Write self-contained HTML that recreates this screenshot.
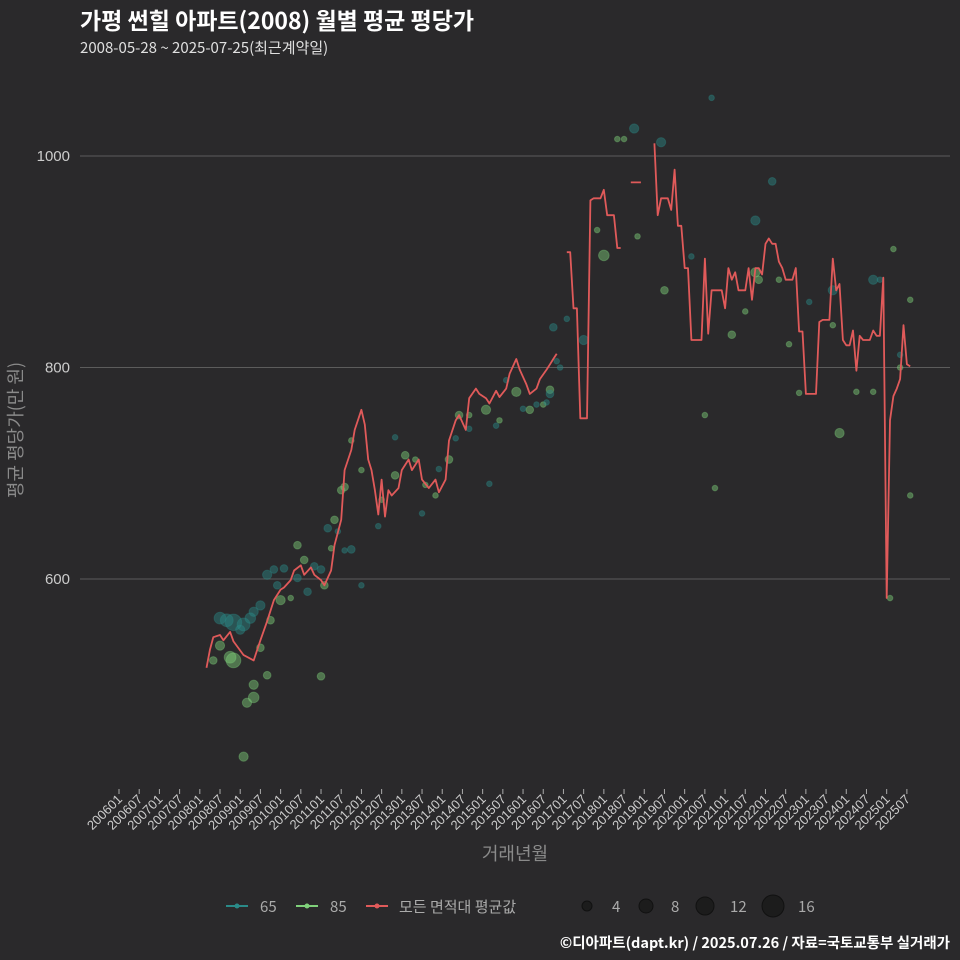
<!DOCTYPE html>
<html><head><meta charset="utf-8"><style>
body{margin:0;background:#2a292b;}
svg{display:block;font-family:"Liberation Sans","Noto Sans CJK KR",sans-serif;}
</style></head><body>
<svg id="chart" width="960" height="960">
<rect width="960" height="960" fill="#2a292b"/>
<text x="80" y="29" fill="#ffffff" font-size="23" font-weight="bold" font-family="'Noto Sans CJK KR',sans-serif">가평 썬힐 아파트(2008) 월별 평균 평당가</text>
<text x="80" y="53" fill="#e0e0e0" font-size="15" font-family="'Noto Sans CJK KR',sans-serif">2008-05-28 ~ 2025-07-25(최근계약일)</text>
<g id="grid"></g><g id="pts"></g><g id="line"></g><g id="axes"></g>
<text transform="translate(22,430) rotate(-90)" text-anchor="middle" fill="#8a8a8a" font-size="18" font-family="'Noto Sans CJK KR',sans-serif">평균 평당가(만 원)</text>
<text x="515" y="860" text-anchor="middle" fill="#8a8a8a" font-size="18" font-family="'Noto Sans CJK KR',sans-serif">거래년월</text>
<g font-size="15" fill="#aaa" font-family="'Noto Sans CJK KR',sans-serif">
 <g><line x1="226" y1="906" x2="248" y2="906" stroke="#2a8a88" stroke-width="2"/><circle cx="237" cy="906" r="2.5" fill="#2a8a88"/><text x="260" y="912">65</text></g>
 <g><line x1="296" y1="906" x2="318" y2="906" stroke="#7fd07a" stroke-width="2"/><circle cx="307" cy="906" r="2.5" fill="#7fd07a"/><text x="330" y="912">85</text></g>
 <g><line x1="366" y1="906" x2="388" y2="906" stroke="#e05a5a" stroke-width="2"/><circle cx="377" cy="906" r="2.5" fill="#e05a5a"/><text x="399" y="912">모든 면적대 평균값</text></g>
 <g fill="#1c1c1c" stroke="#111">
  <circle cx="587" cy="906" r="5"/><circle cx="646" cy="906" r="7"/><circle cx="705" cy="906" r="9"/><circle cx="773" cy="906" r="11"/>
 </g>
 <text x="612" y="912">4</text><text x="671" y="912">8</text><text x="730" y="912">12</text><text x="798" y="912">16</text>
</g>
<text x="950" y="948" text-anchor="end" fill="#ffffff" font-size="14.5" font-weight="bold" font-family="'Noto Sans CJK KR',sans-serif">©디아파트(dapt.kr) / 2025.07.26 / 자료=국토교통부 실거래가</text>
</svg>
<script>
const yTicks=[600,800,1000];
const xTickLabels=[];for(let y=2006;y<=2025;y++){xTickLabels.push(y+'01');xTickLabels.push(y+'07');}
// months since 2006-01; null value breaks the line
const lineMonths=[26,27,28,30,31,33,34,37,40,42,44,46,48,49,51,52,54,55,57,58,60,61,63,64,66,67,69,70,72,73,74,75,76,77,78,79,80,81,83,84,86,87,89,90,92,94,95,97,98,100,101,103,104,106,107,109,110,112,113,115,116,118,119,121,122,124,125,127,128,129,130,131,
133,134,135,136,137,138,139,140,141,142,143,144,145,146,147,148,149,150,152,153,154,155,156,
159,160,161,162,163,164,165,166,167,168,169,170,171,172,173,174,175,176,177,178,179,180,181,182,183,184,185,186,187,188,189,190,191,192,193,194,195,196,197,198,199,200,201,202,203,204,205,206,207,208,209,210,211,212,213,214,215,216,217,218,219,220,221,222,223,224,225,226,227,228,229,230,231,232,233,234,235];
const lineValues=[516,533,545,547,542,550,541,528,523,542,560,580,590,592,599,608,613,604,611,604,599,594,608,632,656,703,722,741,760,746,713,703,684,661,694,659,684,679,686,703,713,703,713,694,686,694,682,694,731,750,755,741,771,780,775,771,766,778,772,780,794,808,798,784,775,780,789,798,803,808,813,null,
909,909,856,856,752,752,752,958,960,960,960,968,944,944,944,913,913,null,975,975,975,975,null,
1012,944,960,960,960,949,987,934,934,894,894,826,826,826,826,903,832,873,873,873,873,856,894,883,890,873,873,873,894,864,894,894,888,917,922,917,917,900,894,883,883,883,894,834,834,775,775,775,775,843,845,845,845,903,873,879,826,821,821,835,797,830,826,826,826,835,830,830,885,582,750,773,780,789,840,803,801];
const p65Months=[30,32,34,37,39,36,40,42,44,46,49,47,53,56,58,60,62,65,67,69,72,77,82,90,95,100,104,110,112,115,120,124,127,128,130,133,129,131,138,153,161,176,189,194,212,224,205,170,226,232];
const p65Values=[563,561,559,557,563,552,569,575,604,609,610,594,601,588,612,609,648,645,627,628,594,650,734,662,704,733,742,690,745,788,761,765,767,775,806,846,838,800,826,1026,1013,1055,939,976,873,883,862,905,883,812];
const p65Counts=[5,6,10,6,4,3,3,3,3,2,2,2,2,2,2,2,2,1,1,2,1,1,1,1,1,1,1,1,1,1,1,1,1,2,1,1,2,1,3,3,3,1,3,2,3,3,1,1,1,1];
const p85Months=[28,30,33,34,37,38,40,40,42,44,45,48,53,55,60,61,51,63,64,66,67,69,72,78,82,85,88,91,94,98,101,104,109,113,118,122,128,126,144,142,154,162,174,177,182,189,190,196,214,202,212,224,229,235,235,232,230,148,150,186,199,219];
const p85Values=[523,537,526,523,432,483,500,488,535,509,561,580,632,618,508,594,582,629,656,684,687,731,703,675,698,717,713,689,679,713,755,755,760,750,777,760,779,765,906,930,924,873,755,686,831,890,883,883,738,776,840,777,582,679,864,800,912,1016,1016,853,822,777];
const p85Counts=[2,3,5,8,3,3,3,4,2,2,2,3,2,2,2,2,1,1,2,2,2,1,1,1,2,2,1,1,1,2,2,1,3,1,3,2,2,1,4,1,1,2,1,1,2,3,2,1,3,1,1,1,1,1,1,1,1,1,1,1,1,1];

const NS='http://www.w3.org/2000/svg';
const xScale=m=>119+m*3.367;
const yScale=v=>579-(v-600)*(423/400);
const rScale=n=>2.5*Math.sqrt(n)+0.3;
function mk(tag,attrs,parent){const e=document.createElementNS(NS,tag);for(const k in attrs)e.setAttribute(k,attrs[k]);parent.appendChild(e);return e;}
const grid=document.getElementById('grid'),axes=document.getElementById('axes');
yTicks.forEach(t=>{
 const l=mk('line',{x1:80,x2:950,y1:yScale(t),y2:yScale(t),stroke:'#5c5c5c','stroke-width':1},grid);
 
 
 const tx=mk('text',{x:70,y:yScale(t)+5,'text-anchor':'end',fill:'#cccccc','font-size':15},axes);
 tx.textContent=t;
 
 
});
xTickLabels.forEach((lab,i)=>{
 const x=xScale(i*6);
 const l=mk('line',{x1:x,x2:x,y1:789,y2:794,stroke:'#aaa'},axes);
 
 
 const t=mk('text',{transform:`translate(${x+4},800) rotate(-45)`,'text-anchor':'end',fill:'#cccccc','font-size':13},axes);
 t.textContent=lab;
 
 
});
const pts=document.getElementById('pts');
function drawPts(ms,vs,ns,col,name){ms.forEach((m,i)=>{
 const c=mk('circle',{cx:xScale(m),cy:yScale(vs[i]),r:rScale(ns[i]),fill:col,'fill-opacity':0.45,stroke:col,'stroke-opacity':0.35},pts);
 
 
});}
drawPts(p85Months,p85Values,p85Counts,'#7fd07a','point-85');
drawPts(p65Months,p65Values,p65Counts,'#2a8a88','point-65');
const lg=document.getElementById('line');
let d='',pen=false;
lineMonths.forEach((m,i)=>{const v=lineValues[i];if(v===null){pen=false;return;}d+=(pen?'L':'M')+xScale(m).toFixed(1)+','+yScale(v).toFixed(1);pen=true;});
const p=mk('path',{d:d,fill:'none',stroke:'#e05a5a','stroke-width':1.8,'stroke-linejoin':'round'},lg);


</script>
</body></html>
